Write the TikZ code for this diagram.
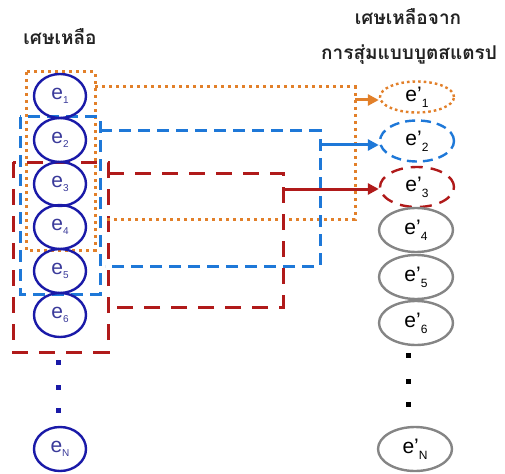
\documentclass[tikz,border=0pt]{standalone}
\usepackage{fontspec}
\setmainfont{Liberation Sans}
\newfontfamily\thaifont[Script=Thai]{Loma}
\usetikzlibrary{shapes.geometric,arrows.meta}
\definecolor{navy}{HTML}{1A1AA8}
\definecolor{navytxt}{HTML}{3A3A9A}
\definecolor{orng}{HTML}{E2802A}
\definecolor{bl}{HTML}{1E78D8}
\definecolor{rd}{HTML}{B01A1A}
\definecolor{gr}{HTML}{858585}
\definecolor{ttl}{HTML}{222222}
\tikzset{
  lc/.style={ellipse,draw=navy,line width=2.4pt,minimum width=52pt,minimum height=44pt,inner sep=0pt,text=navytxt,font=\fontsize{21}{21}\selectfont},
  rc/.style={ellipse,draw=gr,line width=2.4pt,minimum width=74pt,minimum height=44pt,inner sep=0pt,text=black,font=\fontsize{21}{21}\selectfont},
  odot/.style={draw=orng,line width=3pt,dash pattern=on 3pt off 4pt},
  bdash/.style={draw=bl,line width=3pt,dash pattern=on 12pt off 7pt},
  rdash/.style={draw=rd,line width=3pt,dash pattern=on 16pt off 11pt},
  arr/.style={line width=3pt,-{Triangle[length=11pt,width=11pt]}},
  ttlstyle/.style={font=\thaifont\bfseries\fontsize{19}{19}\selectfont,text=ttl,inner sep=0pt,anchor=base},
  ldot/.style={fill=navy},
  rdot/.style={fill=black}
}
\newcommand{\lsub}[1]{e\raisebox{-0.35ex}{\fontsize{10}{10}\selectfont #1}}
\newcommand{\rsub}[1]{e’\raisebox{-0.55ex}{\fontsize{12}{12}\selectfont #1}}
\begin{document}
\begin{tikzpicture}[x=1pt,y=-1pt]
\useasboundingbox (0,0) rectangle (505,473);
% titles
\node[ttlstyle] (t1) at (60,45) {เศษเหลือ};
\node[ttlstyle] (t2) at (408,25) {เศษเหลือจาก};
\node[ttlstyle] (t3) at (409,60) {การสุ่มแบบบูตสแตรป};
% boxes
\draw[odot] (26,72) rectangle (95,250);
\draw[bdash] (20,117) rectangle (100,294);
\draw[rdash] (13,162) rectangle (108,352);
% left circles
\node[lc] (e1) at (60,96) {\lsub{1}};
\node[lc] (e2) at (60,140) {\lsub{2}};
\node[lc] (e3) at (60,184) {\lsub{3}};
\node[lc] (e4) at (60,227) {\lsub{4}};
\node[lc] (e5) at (60,271) {\lsub{5}};
\node[lc] (e6) at (60,315) {\lsub{6}};
\node[lc] (eN) at (60,449) {\lsub{N}};
% right ellipses
\node[rc,draw=orng,dash pattern=on 2.6pt off 3pt,minimum height=31pt] (f1) at (417,97) {\rsub{1}};
\node[rc,draw=bl,dash pattern=on 10pt off 6pt,minimum height=41pt] (f2) at (417,141) {\rsub{2}};
\node[rc,draw=rd,dash pattern=on 12pt off 8pt,minimum height=40pt] (f3) at (417,187) {\rsub{3}};
\node[rc] (f4) at (416,230) {\rsub{4}};
\node[rc] (f5) at (416,277) {\rsub{5}};
\node[rc] (f6) at (416,323) {\rsub{6}};
\node[rc] (fN) at (415,449) {\rsub{N}};
% connector frames
\coordinate (oa) at (95,87);
\coordinate (ob) at (355,87);
\coordinate (oc) at (355,219);
\coordinate (od) at (105,219);
\draw[odot] (oa) -- (ob) -- (oc) -- (od);
\coordinate (ba) at (100,131);
\coordinate (bb) at (320,131);
\coordinate (bc) at (320,266);
\coordinate (bd) at (105,266);
\draw[bdash] (ba) -- (bb) -- (bc) -- (bd);
\coordinate (ra) at (108,173);
\coordinate (rb) at (283,173);
\coordinate (rc) at (283,307);
\coordinate (rd) at (108,307);
\draw[rdash] (ra) -- (rb) -- (rc) -- (rd);
% arrows
\coordinate (oarr) at (355,100);
\coordinate (barr) at (320,145);
\coordinate (rarr) at (283,189);
\draw[arr,orng] (oarr) -- (oarr -| f1.west);
\draw[arr,bl] (barr) -- (barr -| f2.west);
\draw[arr,rd] (rarr) -- (rarr -| f3.west);
% dots
\foreach \y in {362,387,410} \fill[ldot] (56,\y-2.5) rectangle +(5,5);
\foreach \y in {355,381,404} \fill[rdot] (406,\y-2.5) rectangle +(5,5);
\end{tikzpicture}
\end{document}
